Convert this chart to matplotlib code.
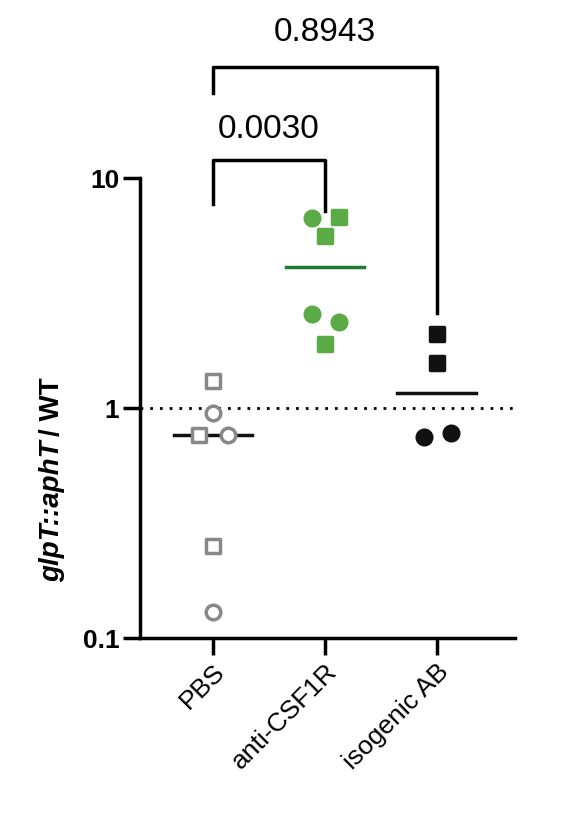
import matplotlib
matplotlib.use("Agg")
import matplotlib.pyplot as plt

plt.rcParams['font.family'] = ['Liberation Sans', 'DejaVu Sans']

groups = ["PBS", "anti-CSF1R", "isogenic AB"]
colors = ["#888888", "#5aaa46", "#111111"]
filled = [False, True, True]
sq_vals = [[1.31, 0.76, 0.25], [6.8, 5.6, 1.9], [2.1, 1.57]]
sq_off = [[0.0, -0.12, 0.0], [0.13, 0.0, 0.0], [0.0, 0.0]]
ci_vals = [[0.95, 0.76, 0.13], [6.7, 2.56, 2.37], [0.75, 0.78]]
ci_off = [[0.0, 0.14, 0.0], [-0.11, -0.11, 0.13], [-0.11, 0.13]]
medians = [0.76, 4.1, 1.16]
median_colors = ["#111111", "#1f7a33", "#111111"]
pvals = ["0.0030", "0.8943"]

fig = plt.figure(figsize=(5.65, 8.18), dpi=100)
ax = fig.add_axes([140/565, 1-638/818, 375/565, 460/818])
ax.set_yscale('log')
ax.set_ylim(0.1, 10)
ax.set_xlim(-0.65, 2.70)

for i in range(3):
    fc = colors[i] if filled[i] else 'white'
    ax.scatter([i + o for o in sq_off[i]], sq_vals[i], marker='s', s=110,
               facecolor=fc, edgecolor=colors[i], linewidth=2.5, zorder=3)
    ax.scatter([i + o for o in ci_off[i]], ci_vals[i], marker='o', s=110,
               facecolor=fc, edgecolor=colors[i], linewidth=2.5, zorder=3)
    ax.plot([i - 0.35, i + 0.35], [medians[i]] * 2, color=median_colors[i], lw=2.5, zorder=2)

ax.axhline(1, color='black', ls=(0, (1, 2.5)), lw=2)

for s in ['top', 'right']:
    ax.spines[s].set_visible(False)
for s in ['left', 'bottom']:
    ax.spines[s].set_linewidth(2.5)
ax.minorticks_off()
ax.set_yticks([0.1, 1, 10])
ax.set_yticklabels(["0.1", "1", "10"], fontsize=19, fontweight='bold')
ax.tick_params(axis='y', length=12, width=2.5, pad=3)
ax.tick_params(axis='x', length=12, width=2.5)
ax.set_xticks(range(3))
ax.set_xticklabels(groups, rotation=45, ha='right', rotation_mode='anchor', fontsize=19)

# brackets
kw = dict(color='black', lw=2.5, clip_on=False)
ax.plot([0, 0, 1, 1], [7.7, 12, 12, 7.2], **kw)
ax.text(0.5, 16.2, pvals[0], ha='center', va='center', fontsize=24)
ax.plot([0, 0, 2, 2], [23.5, 30.4, 30.4, 2.6], **kw)
ax.text(1.0, 43, pvals[1], ha='center', va='center', fontsize=24)

t1 = fig.text(52/565, 1-582/818, "glpT::aphT", rotation=90, ha='center', va='bottom',
              fontsize=20, fontweight='bold', fontstyle='italic')
fig.canvas.draw()
bb = t1.get_window_extent()
t2 = fig.text(52/565, (bb.y1 + 4) / fig.bbox.height, "/ WT", rotation=90, ha='center',
              va='bottom', fontsize=20, fontweight='bold')

fig.savefig("out.png", dpi=100)
